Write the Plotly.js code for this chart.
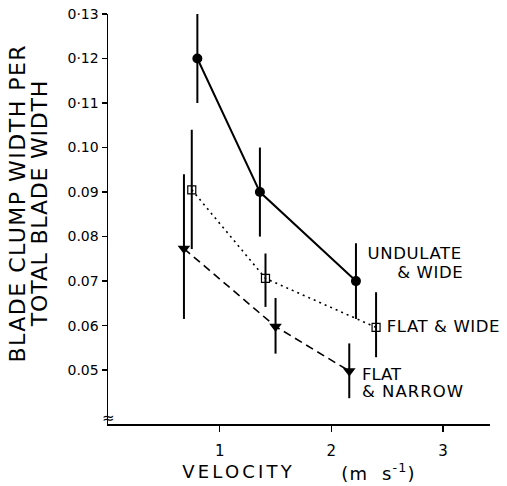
<!DOCTYPE html>
<html><head><meta charset="utf-8">
<script src="https://cdn.plot.ly/plotly-3.0.1.min.js"></script>
<style>body{margin:0;background:#fff}#chart{width:507px;height:486px}</style>
</head><body><div id="chart"></div>
<script>
// Data
const undulateWideX = [0.80, 1.36, 2.22];
const undulateWideY = [0.120, 0.090, 0.070];
const undulateWideErrUp = [0.010, 0.010, 0.0085];
const undulateWideErrDown = [0.010, 0.010, 0.0085];

const flatWideX = [0.75, 1.41, 2.40];
const flatWideY = [0.0905, 0.0706, 0.0596];
const flatWideErrUp = [0.0135, 0.0056, 0.0079];
const flatWideErrDown = [0.0133, 0.0064, 0.0067];

const flatNarrowX = [0.68, 1.50, 2.16];
const flatNarrowY = [0.0773, 0.0598, 0.0498];
const flatNarrowErrUp = [0.0167, 0.0064, 0.0062];
const flatNarrowErrDown = [0.0158, 0.0061, 0.0061];

const yTickVals = [0.05, 0.06, 0.07, 0.08, 0.09, 0.10, 0.11, 0.12, 0.13];
const yTickText = ["0.05", "0.06", "0.07", "0.08", "0.09", "0.10", "0·11", "0·12", "0·13"];
const xTickVals = [1, 2, 3];
const xTickText = ["1", "2", "3"];

const FONT = "DejaVu Sans, sans-serif";

function errs(up, down) {
  return {type: 'data', symmetric: false, array: up, arrayminus: down,
          color: '#000', thickness: 2, width: 0};
}

const traces = [
  {x: flatNarrowX, y: flatNarrowY, mode: 'lines+markers', name: 'FLAT & NARROW',
   line: {color: '#000', width: 1.6, dash: '8px,5px'},
   marker: {symbol: 'triangle-down', size: 11, color: '#000'},
   error_y: errs(flatNarrowErrUp, flatNarrowErrDown)},
  {x: flatWideX, y: flatWideY, mode: 'lines+markers', name: 'FLAT & WIDE',
   line: {color: '#000', width: 1.6, dash: '2px,4px'},
   marker: {symbol: 'square-open', size: 8, color: '#000', line: {width: 1.2}},
   error_y: errs(flatWideErrUp, flatWideErrDown)},
  {x: undulateWideX, y: undulateWideY, mode: 'lines+markers', name: 'UNDULATE & WIDE',
   line: {color: '#000', width: 2},
   marker: {symbol: 'circle', size: 10, color: '#000'},
   error_y: errs(undulateWideErrUp, undulateWideErrDown)}
];

const LBL = {family: FONT, size: 16.5, color: '#000'};
const annotations = [
  {text: 'BLADE CLUMP WIDTH PER', xref: 'paper', yref: 'paper', x: -0.2356, y: 0.537,
   xanchor: 'center', yanchor: 'middle', textangle: -90, showarrow: false,
   font: {family: FONT, size: 22, color: '#000'}},
  {text: 'TOTAL BLADE WIDTH', xref: 'paper', yref: 'paper', x: -0.1793, y: 0.537,
   xanchor: 'center', yanchor: 'middle', textangle: -90, showarrow: false,
   font: {family: FONT, size: 22, color: '#000'}},
  {text: 'VELOCITY', xref: 'paper', yref: 'paper', x: 0.343, y: -0.117,
   xanchor: 'center', yanchor: 'middle', showarrow: false,
   font: {family: FONT, size: 18, color: '#000'}},
  {text: '(m  s<sup>-1</sup>)', xref: 'paper', yref: 'paper', x: 0.709, y: -0.117,
   xanchor: 'center', yanchor: 'middle', showarrow: false,
   font: {family: FONT, size: 18, color: '#000'}},
  {text: 'UNDULATE', x: 2.748, y: 0.0761, xanchor: 'center', yanchor: 'middle',
   showarrow: false, font: LBL},
  {text: '& WIDE', x: 2.887, y: 0.0719, xanchor: 'center', yanchor: 'middle',
   showarrow: false, font: LBL},
  {text: 'FLAT & WIDE', x: 3.0, y: 0.0597, xanchor: 'center', yanchor: 'middle',
   showarrow: false, font: LBL},
  {text: 'FLAT', x: 2.45, y: 0.0490, xanchor: 'center', yanchor: 'middle',
   showarrow: false, font: LBL},
  {text: '& NARROW', x: 2.728, y: 0.0451, xanchor: 'center', yanchor: 'middle',
   showarrow: false, font: LBL},
  {text: '≈', xref: 'paper', yref: 'paper', x: 0, y: 0.0146, xanchor: 'center', yanchor: 'middle',
   showarrow: false, font: {family: FONT, size: 15, color: '#000'}}
];
const letterSpacing = ['1.5px', '0.8px', '3.2px', '1.2px', '0.6px', '0.6px', '0.6px', '0px', '1px', '0px'];

const layout = {
  width: 507, height: 486,
  margin: {l: 108, r: 17, t: 14, b: 62},
  paper_bgcolor: '#fff', plot_bgcolor: '#fff',
  showlegend: false,
  font: {family: FONT, color: '#000'},
  xaxis: {
    range: [0, 3.42], showgrid: false, zeroline: false,
    showline: true, linecolor: '#000', linewidth: 1.5,
    ticks: 'outside', ticklen: 6, tickwidth: 1.5, tickcolor: '#000',
    ticklabelstandoff: 6,
    tickvals: xTickVals, ticktext: xTickText,
    tickfont: {family: FONT, size: 15, color: '#000'}
  },
  yaxis: {
    range: [0.0379, 0.13], showgrid: false, zeroline: false,
    showline: true, linecolor: '#000', linewidth: 1.5,
    ticks: 'outside', ticklen: 5, tickwidth: 1.5, tickcolor: '#000',
    tickvals: yTickVals, ticktext: yTickText,
    tickfont: {family: FONT, size: 14, color: '#000'}
  },
  annotations: annotations
};

Plotly.newPlot('chart', traces, layout, {displayModeBar: false, staticPlot: true}).then(function () {
  const groups = document.querySelectorAll('#chart .annotation');
  groups.forEach(function (g, i) {
    const t = g.querySelector('text.annotation-text');
    if (t && letterSpacing[i]) t.style.letterSpacing = letterSpacing[i];
  });
});
</script>
</body></html>
